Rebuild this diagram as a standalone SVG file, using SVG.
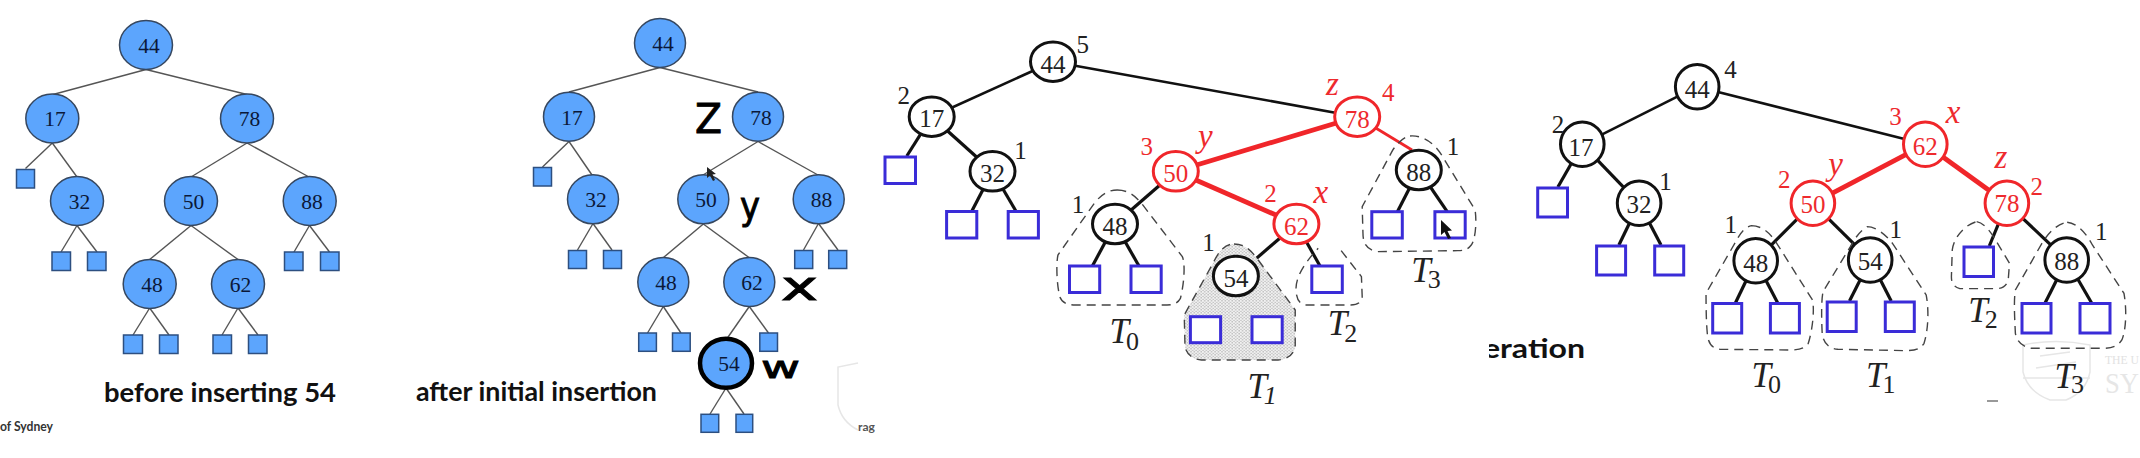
<svg xmlns="http://www.w3.org/2000/svg" width="2140" height="458" viewBox="0 0 2140 458">
<style>
text{font-family:"Liberation Serif","Times New Roman",serif}
.n1 ellipse{fill:#5ca5fd;stroke:#36475f;stroke-width:1.5}
.n1 rect{fill:#5ca5fd;stroke:#2d4f80;stroke-width:1.5}
.n1 text{font-size:21.500px;fill:#0b1838;text-anchor:middle}
.e1 line{stroke:#555;stroke-width:1.4}
.bk ellipse{fill:#fff;stroke:#111;stroke-width:3}
.rd ellipse{fill:#fff;stroke:#f0262a;stroke-width:3}
.bk text{font-size:25px;fill:#222;text-anchor:middle}
.rd text{font-size:25px;fill:#ee2a2e;text-anchor:middle}
.lf rect{fill:#fff;stroke:#3a2cd8;stroke-width:3}
.bk .hb{font-size:25px;fill:#222;text-anchor:middle}
.rd .hr{font-size:25px;fill:#ee2a2e;text-anchor:middle}
.rd .ir{font-size:33px;fill:#ee2a2e;text-anchor:middle;font-style:italic}
.e2 line{stroke:#111;stroke-width:3.2}
.e2 .t{stroke-width:2.6}
.e2 .r{stroke:#f0262a;stroke-width:4.8}
.e2 .q{stroke:#f0262a;stroke-width:2.8}
.blob{fill:none;stroke:#444;stroke-width:1.4;stroke-dasharray:9 6;vector-effect:non-scaling-stroke}
.T{font-size:35px;font-style:italic;fill:#222}
.S{font-size:26px;fill:#222}
.cap{font-family:Lato,"Open Sans",sans-serif;font-size:27px;font-weight:700;fill:#111}
.hw{font-family:"DejaVu Sans","Open Sans",sans-serif;font-weight:400;fill:#000;stroke:#000;stroke-width:.9}
.wm{fill:none;stroke:#e6e6e6;stroke-width:1.5}
</style>
<defs>
<pattern id="dots" width="9" height="9" patternUnits="userSpaceOnUse"><rect width="9" height="9" fill="#f1f1f1"/><circle cx="2.500" cy="2.500" r="2" fill="#9c9c9c"/><circle cx="7" cy="7" r="2" fill="#b4b4b4"/></pattern>
<clipPath id="clipEr"><rect x="1489" y="320" width="110" height="50"/></clipPath>
</defs>
<rect width="2140" height="458" fill="#fff"/>

<g id="watermarks">
<path class="wm" d="M858 363 L838 367 L838 405 Q842 422 858 430"/>
<path class="wm" d="M2090 345 Q2056 338 2023 345 L2023 372 Q2028 392 2050 400 L2066 400 Q2086 392 2090 372Z"/>
<path class="wm" d="M2040 356 L2070 352 M2036 368 L2076 362 M2023 378 L2090 378"/>
<path d="M1987 401 H1998" stroke="#555" stroke-width="1.2"/>
</g>
<text x="2105" y="364" font-size="12" fill="#e2e2e2" textLength="34" lengthAdjust="spacingAndGlyphs">THE U</text>
<text x="2105" y="393" font-size="30" fill="#e6e6e6" textLength="34" lengthAdjust="spacingAndGlyphs">SY</text>

<g id="connectors">
<g class="e1">
<line x1="146" y1="69.500" x2="53" y2="94.500"/><line x1="146" y1="69.500" x2="247" y2="94.500"/>
<line x1="52.300" y1="143" x2="25.500" y2="168.500"/><line x1="52.300" y1="143" x2="77" y2="177"/>
<line x1="247" y1="143" x2="191" y2="177"/><line x1="247" y1="143" x2="309" y2="177"/>
<line x1="77" y1="225.500" x2="61" y2="252"/><line x1="77" y1="225.500" x2="97" y2="252"/>
<line x1="191" y1="225.500" x2="149.700" y2="259.500"/><line x1="191" y1="225.500" x2="238" y2="259.500"/>
<line x1="309.500" y1="225.500" x2="294" y2="252"/><line x1="309.500" y1="225.500" x2="329.500" y2="252"/>
<line x1="149.700" y1="308" x2="133" y2="335"/><line x1="149.700" y1="308" x2="169" y2="335"/>
<line x1="238" y1="308" x2="222" y2="335"/><line x1="238" y1="308" x2="258" y2="335"/>

<line x1="660" y1="67.500" x2="569" y2="92"/><line x1="660" y1="67.500" x2="758" y2="92"/>
<line x1="569" y1="141.500" x2="542.500" y2="167"/><line x1="569" y1="141.500" x2="592" y2="175"/>
<line x1="758" y1="141.500" x2="703" y2="175"/><line x1="758" y1="141.500" x2="818" y2="175"/>
<line x1="593" y1="223.500" x2="577.500" y2="250"/><line x1="593" y1="223.500" x2="612" y2="250"/>
<line x1="703.300" y1="224" x2="663.500" y2="257.500"/><line x1="703.300" y1="224" x2="749" y2="257.500"/>
<line x1="818.500" y1="223.500" x2="803.500" y2="250"/><line x1="818.500" y1="223.500" x2="838" y2="250"/>
<line x1="663.300" y1="306.500" x2="647.500" y2="333"/><line x1="663.300" y1="306.500" x2="681" y2="333"/>
<line x1="749.300" y1="306.500" x2="726" y2="340"/><line x1="749.300" y1="306.500" x2="768.500" y2="333"/>
<line x1="726" y1="388" x2="710" y2="414"/><line x1="726" y1="388" x2="744" y2="414"/>
</g>
<g class="e2">
<line class="t" x1="1053" y1="61.700" x2="931.700" y2="116.700"/><line class="t" x1="1053" y1="61.700" x2="1357.200" y2="116.700"/>
<line x1="931.700" y1="116.700" x2="906.800" y2="156"/><line x1="931.700" y1="116.700" x2="992.500" y2="171.300"/>
<line x1="992.500" y1="171.300" x2="971.900" y2="211"/><line x1="992.500" y1="171.300" x2="1015.900" y2="211"/>
<line class="r" x1="1357.200" y1="116.700" x2="1175.800" y2="171.300"/>
<line class="r" x1="1175.800" y1="171.300" x2="1296.400" y2="224"/>
<line class="q" x1="1357.200" y1="116.700" x2="1412" y2="150"/>
<line x1="1175.800" y1="171.300" x2="1115" y2="224"/>
<line x1="1115" y1="224" x2="1092.400" y2="266"/><line x1="1115" y1="224" x2="1139" y2="266"/>
<line x1="1296.400" y1="224" x2="1235.900" y2="276"/><line x1="1296.400" y1="224" x2="1320" y2="266"/>
<line x1="1235.900" y1="276" x2="1216.800" y2="316.700"/><line x1="1235.900" y1="276" x2="1258" y2="316.700"/>
<line x1="1418.800" y1="170" x2="1397.400" y2="211.700"/><line x1="1418.800" y1="170" x2="1447.200" y2="211.700"/>

<line class="t" x1="1697.200" y1="86.700" x2="1582.300" y2="144.300"/><line class="t" x1="1697.200" y1="86.700" x2="1925.300" y2="144.300"/>
<line x1="1582.300" y1="144.300" x2="1557.900" y2="187"/><line x1="1582.300" y1="144.300" x2="1639.100" y2="203.300"/>
<line x1="1639.100" y1="203.300" x2="1618.900" y2="245"/><line x1="1639.100" y1="203.300" x2="1661" y2="245"/>
<line class="r" x1="1925.300" y1="144.300" x2="1812.900" y2="203.300"/><line class="r" x1="1925.300" y1="144.300" x2="2006.900" y2="203.300"/>
<line x1="1812.900" y1="203.300" x2="1755.700" y2="260.700"/><line x1="1812.900" y1="203.300" x2="1870.200" y2="260"/>
<line x1="2006.900" y1="203.300" x2="1989.300" y2="246"/><line x1="2006.900" y1="203.300" x2="2066.700" y2="260"/>
<line x1="1755.700" y1="260.700" x2="1735.500" y2="302.700"/><line x1="1755.700" y1="260.700" x2="1777.600" y2="302.700"/>
<line x1="1870.200" y1="260" x2="1849.500" y2="301"/><line x1="1870.200" y1="260" x2="1891.200" y2="301"/>
<line x1="2066.700" y1="260" x2="2045.200" y2="302.700"/><line x1="2066.700" y1="260" x2="2091.500" y2="302.700"/>
</g>
</g>

<g id="subtree-outlines">
<g transform="translate(880,0) scale(.3827,.3333)">
<path class="blob" style="fill:url(#dots)" d="M925 732C950 732 965 745 985 775L1085 930L1085 1040C1080 1065 1065 1078 1040 1080L840 1080C815 1078 800 1060 797 1040L795 945L870 790C885 755 900 732 925 732Z"/>
<path class="blob" d="M620 570C650 570 670 590 690 620L790 770C798 790 795 850 785 895C775 915 760 915 750 915L510 915C480 915 470 900 468 880C462 850 460 790 465 765L560 610C580 580 600 570 620 570Z"/>
<path class="blob" d="M1205 752L1258 830L1260 890C1258 910 1245 915 1230 915L1110 915C1095 912 1088 895 1087 870C1086 840 1100 800 1145 745"/>
<path class="blob" d="M1385 408C1420 405 1450 430 1470 470L1555 630C1560 670 1555 720 1545 735C1535 750 1525 752 1510 752L1300 755C1275 750 1262 735 1262 700L1260 620L1340 450C1355 425 1370 410 1385 408Z"/>
</g>
<g transform="translate(1480,0) scale(.4209,.3333)">
<path class="blob" d="M645 677C670 677 690 700 705 730L790 900C795 930 790 990 780 1030C770 1048 755 1050 735 1050L570 1048C550 1045 542 1030 540 1000C537 960 537 900 537 880L610 720C620 695 632 680 645 677Z"/>
<path class="blob" d="M920 680C940 680 965 705 980 730L1060 885C1067 930 1065 990 1055 1030C1045 1050 1030 1052 1010 1052L850 1048C825 1045 815 1025 813 1000C811 950 811 900 815 875L880 740C890 715 905 690 920 680Z"/>
<path class="blob" d="M1180 665C1200 670 1215 700 1225 720L1258 790L1255 840C1250 860 1240 866 1225 866L1140 866C1125 860 1120 850 1120 830L1122 750C1125 715 1150 675 1180 665Z"/>
<path class="blob" d="M1395 667C1420 670 1440 700 1455 735L1530 880C1537 930 1535 990 1525 1020C1515 1040 1500 1045 1480 1045L1310 1045C1285 1040 1275 1020 1272 1000C1270 950 1268 900 1272 870L1335 730C1350 700 1370 672 1395 667Z"/>
</g>
</g>

<g id="tree-before" class="n1">
<g id="a44"><ellipse cx="146" cy="45" rx="26.500" ry="24.500"/><text x="149" y="52.700">44</text></g>
<g id="a17"><ellipse cx="52.300" cy="118.500" rx="26.500" ry="24.500"/><text x="55" y="126">17</text></g>
<g id="a78"><ellipse cx="247" cy="118.500" rx="26.500" ry="24.500"/><text x="249.500" y="126">78</text></g>
<g id="a32"><ellipse cx="77" cy="201" rx="26.500" ry="24.500"/><text x="79.500" y="208.500">32</text></g>
<g id="a50"><ellipse cx="191" cy="201" rx="26.500" ry="24.500"/><text x="193.500" y="208.500">50</text></g>
<g id="a88"><ellipse cx="309.700" cy="201" rx="26.500" ry="24.500"/><text x="312" y="208.500">88</text></g>
<g id="a48"><ellipse cx="149.700" cy="284" rx="26.500" ry="24.500"/><text x="152" y="291.500">48</text></g>
<g id="a62"><ellipse cx="238" cy="284" rx="26.500" ry="24.500"/><text x="240.500" y="291.500">62</text></g>
<g id="a-l1"><rect x="16.500" y="169.500" width="18" height="18.500"/></g>
<g id="a-l2"><rect x="52" y="252" width="18.500" height="18.500"/></g>
<g id="a-l3"><rect x="87.500" y="252" width="18.500" height="18.500"/></g>
<g id="a-l4"><rect x="284.500" y="252" width="18.500" height="18.500"/></g>
<g id="a-l5"><rect x="320.500" y="252" width="18.500" height="18.500"/></g>
<g id="a-l6"><rect x="123.500" y="335" width="19" height="18.500"/></g>
<g id="a-l7"><rect x="159.500" y="335" width="18.500" height="18.500"/></g>
<g id="a-l8"><rect x="213" y="335" width="18.500" height="18.500"/></g>
<g id="a-l9"><rect x="248.500" y="335" width="18.500" height="18.500"/></g>
</g>
<text class="cap" x="104" y="402" textLength="232" lengthAdjust="spacingAndGlyphs">before inserting 54</text>
<text x="0" y="431" font-size="13" fill="#333" style="font-family:Lato,sans-serif;font-weight:700" textLength="53" lengthAdjust="spacingAndGlyphs">of Sydney</text>

<g id="tree-after" class="n1">
<g id="b44"><ellipse cx="660" cy="43" rx="25.500" ry="24.500"/><text x="663" y="51">44</text></g>
<g id="b17"><ellipse cx="569" cy="116.700" rx="25.500" ry="24.500"/><text x="572" y="124.500">17</text></g>
<g id="b78"><ellipse cx="758" cy="116.700" rx="25.500" ry="24.500"/><text x="761" y="124.500">78</text></g>
<g id="b32"><ellipse cx="593" cy="199.300" rx="25.500" ry="24.500"/><text x="596" y="207">32</text></g>
<g id="b50"><ellipse cx="703.300" cy="199.300" rx="25.500" ry="24.500"/><text x="706" y="207">50</text></g>
<g id="b88"><ellipse cx="818.700" cy="199.300" rx="25.500" ry="24.500"/><text x="821.500" y="207">88</text></g>
<g id="b48"><ellipse cx="663.300" cy="282" rx="25.500" ry="24.500"/><text x="666" y="290">48</text></g>
<g id="b62"><ellipse cx="749.300" cy="282" rx="25.500" ry="24.500"/><text x="752" y="290">62</text></g>
<g id="b54"><ellipse cx="726" cy="363.300" rx="26" ry="24.500" style="stroke:#000;stroke-width:4.500"/><text x="729" y="371">54</text></g>
<g id="b-l1"><rect x="533.500" y="167.500" width="18" height="18.500"/></g>
<g id="b-l2"><rect x="568.500" y="250.500" width="18" height="18"/></g>
<g id="b-l3"><rect x="603.500" y="250.500" width="18" height="18"/></g>
<g id="b-l4"><rect x="794.700" y="250.500" width="18" height="18"/></g>
<g id="b-l5"><rect x="828.700" y="250.500" width="18" height="18"/></g>
<g id="b-l6"><rect x="638.700" y="333" width="17.700" height="18.300"/></g>
<g id="b-l7"><rect x="672.500" y="333" width="17.700" height="18.300"/></g>
<g id="b-l8"><rect x="759.800" y="333" width="17.700" height="18.300"/></g>
<g id="b-l9"><rect x="701" y="414.300" width="17.700" height="18"/></g>
<g id="b-l10"><rect x="736" y="414.300" width="16.700" height="18"/></g>
</g>
<text class="cap" x="416" y="401" textLength="241" lengthAdjust="spacingAndGlyphs">after initial insertion</text>
<text x="858" y="431" font-size="12" fill="#555" style="font-family:Lato,sans-serif;font-weight:700">rag</text>
<path id="cursor-a" d="M707 167 L707 178 L710 175.500 L713 181 L715 180 L712.500 174.500 L716 174 Z" fill="#222"/>
<g id="handwriting">
<text class="hw" x="695" y="133" font-size="41" textLength="27" lengthAdjust="spacingAndGlyphs">Z</text>
<text class="hw" x="740" y="219" font-size="38" textLength="20" lengthAdjust="spacingAndGlyphs">y</text>
<text class="hw" x="781" y="300" font-size="40" textLength="37" lengthAdjust="spacingAndGlyphs">x</text>
<text class="hw" x="761" y="378" font-size="31" textLength="39" lengthAdjust="spacingAndGlyphs">w</text>
</g>

<g id="tree-p3">
<g id="c44" class="bk"><ellipse cx="1053" cy="61.700" rx="22.500" ry="19.800"/><text x="1053" y="72.500">44</text><text class="hb" x="1082.800" y="53">5</text></g>
<g id="c17" class="bk"><ellipse cx="931.700" cy="116.700" rx="22.500" ry="19.800"/><text x="931.700" y="126.500">17</text><text class="hb" x="903.700" y="104">2</text></g>
<g id="c32" class="bk"><ellipse cx="992.500" cy="171.300" rx="22.500" ry="19.800"/><text x="992.500" y="181.500">32</text><text class="hb" x="1020.500" y="159">1</text></g>
<g id="c78" class="rd"><ellipse cx="1357.200" cy="116.700" rx="22.500" ry="19.800"/><text x="1357.200" y="127.500">78</text><text class="ir" x="1332.300" y="95">z</text><text class="hr" x="1388.200" y="101">4</text></g>
<g id="c50" class="rd"><ellipse cx="1175.800" cy="171.300" rx="22.500" ry="19.800"/><text x="1175.800" y="181.500">50</text><text class="ir" x="1205.300" y="146.700">y</text><text class="hr" x="1146.700" y="155">3</text></g>
<g id="c62" class="rd"><ellipse cx="1296.400" cy="224" rx="22.500" ry="19.800"/><text x="1296.400" y="235">62</text><text class="hr" x="1270.400" y="202">2</text><text class="ir" x="1320.900" y="203">x</text></g>
<g id="c48" class="bk"><ellipse cx="1115" cy="224" rx="22.500" ry="19.800"/><text x="1115" y="235">48</text><text class="hb" x="1077.900" y="213">1</text></g>
<g id="c54" class="bk"><ellipse cx="1235.900" cy="276" rx="22.500" ry="19.800"/><text x="1235.900" y="286.500">54</text><text class="hb" x="1208.400" y="250.700">1</text></g>
<g id="c88" class="bk"><ellipse cx="1418.800" cy="170" rx="22.500" ry="19.800"/><text x="1418.800" y="181">88</text><text class="hb" x="1452.900" y="155">1</text></g>
<g class="lf">
<g id="c-l1"><rect x="885" y="157" width="30.500" height="26.500"/></g>
<g id="c-l2"><rect x="946.600" y="211.500" width="30.200" height="26.500"/></g>
<g id="c-l3"><rect x="1008.200" y="211.500" width="30.200" height="26.500"/></g>
<g id="c-l4"><rect x="1069.500" y="266" width="30.200" height="26.500"/></g>
<g id="c-l5"><rect x="1131" y="266" width="30.200" height="26.500"/></g>
<g id="c-l6"><rect x="1311.800" y="266" width="30.500" height="26.500"/></g>
<g id="c-l7"><rect x="1190.400" y="316.700" width="30.200" height="26"/></g>
<g id="c-l8"><rect x="1252" y="316.700" width="30.200" height="26"/></g>
<g id="c-l9"><rect x="1371.800" y="211.700" width="30.500" height="26.300"/></g>
<g id="c-l10"><rect x="1434.900" y="211.700" width="30.300" height="26.300"/></g>
</g>
</g>
<path id="cursor-b" d="M1441 220 L1441 235 L1444.500 232 L1448 239 L1451 238 L1447.500 231 L1452 230.500 Z" fill="#111"/>
<g id="subtree-labels-p3">
<text x="1109.600" y="343"><tspan class="T">T</tspan><tspan class="S" dx="-3" dy="7">0</tspan></text>
<text x="1247.400" y="398"><tspan class="T">T</tspan><tspan class="S" dx="-3" dy="6" style="font-style:italic">1</tspan></text>
<text x="1327.800" y="335"><tspan class="T">T</tspan><tspan class="S" dx="-3" dy="7">2</tspan></text>
<text x="1411.200" y="281.700"><tspan class="T">T</tspan><tspan class="S" dx="-3" dy="6.500">3</tspan></text>
</g>

<text class="cap" x="1483" y="358" clip-path="url(#clipEr)" textLength="102" lengthAdjust="spacingAndGlyphs">eration</text>

<g id="tree-p4">
<g id="d44" class="bk"><ellipse cx="1697.200" cy="86.700" rx="21.800" ry="22.300"/><text x="1697.200" y="97.700">44</text><text class="hb" x="1730.400" y="78.300">4</text></g>
<g id="d17" class="bk"><ellipse cx="1582.300" cy="144.300" rx="21.800" ry="22.300"/><text x="1581" y="155.800">17</text><text class="hb" x="1557.900" y="132.700">2</text></g>
<g id="d32" class="bk"><ellipse cx="1639.100" cy="203.300" rx="21.800" ry="22.300"/><text x="1639.100" y="213.300">32</text><text class="hb" x="1665.600" y="190">1</text></g>
<g id="d62" class="rd"><ellipse cx="1925.300" cy="144.300" rx="21.800" ry="22.300"/><text x="1925.300" y="155.300">62</text><text class="hr" x="1895.400" y="125">3</text><text class="ir" x="1953" y="122.700">x</text></g>
<g id="d50" class="rd"><ellipse cx="1812.900" cy="203.300" rx="21.800" ry="22.300"/><text x="1812.900" y="213.300">50</text><text class="ir" x="1835.600" y="175">y</text><text class="hr" x="1784.300" y="188.300">2</text></g>
<g id="d78" class="rd"><ellipse cx="2006.900" cy="203.300" rx="21.800" ry="22.300"/><text x="2006.900" y="212">78</text><text class="ir" x="2001" y="168.300">z</text><text class="hr" x="2036.800" y="195">2</text></g>
<g id="d48" class="bk"><ellipse cx="1755.700" cy="260.700" rx="21.800" ry="22.300"/><text x="1755.700" y="271.700">48</text><text class="hb" x="1730.800" y="233.300">1</text></g>
<g id="d54" class="bk"><ellipse cx="1870.200" cy="260" rx="21.800" ry="22.300"/><text x="1870.200" y="270">54</text><text class="hb" x="1895.800" y="238.300">1</text></g>
<g id="d88" class="bk"><ellipse cx="2066.700" cy="260" rx="21.800" ry="22.300"/><text x="2066.700" y="270">88</text><text class="hb" x="2101.200" y="240">1</text></g>
<g class="lf">
<g id="d-l1"><rect x="1537.700" y="188" width="29.800" height="29"/></g>
<g id="d-l2"><rect x="1596.600" y="246" width="29" height="29"/></g>
<g id="d-l3"><rect x="1654.700" y="246" width="29" height="29"/></g>
<g id="d-l4"><rect x="1712.700" y="303.500" width="29" height="29.500"/></g>
<g id="d-l5"><rect x="1770.400" y="303.500" width="29" height="29.500"/></g>
<g id="d-l6"><rect x="1827.200" y="302" width="29" height="29.500"/></g>
<g id="d-l7"><rect x="1885.300" y="302" width="29" height="29.500"/></g>
<g id="d-l8"><rect x="1964" y="247" width="29.500" height="29.500"/></g>
<g id="d-l9"><rect x="2022" y="303.500" width="29" height="29.500"/></g>
<g id="d-l10"><rect x="2080" y="303.500" width="30" height="29.500"/></g>
</g>
</g>
<g id="subtree-labels-p4">
<text x="1751.500" y="386.700"><tspan class="T">T</tspan><tspan class="S" dx="-3" dy="6.500">0</tspan></text>
<text x="1866" y="386.700"><tspan class="T">T</tspan><tspan class="S" dx="-3" dy="6.500">1</tspan></text>
<text x="1968.200" y="321.700"><tspan class="T">T</tspan><tspan class="S" dx="-3" dy="6.500">2</tspan></text>
<text x="2054.500" y="388.300"><tspan class="T">T</tspan><tspan class="S" dx="-3" dy="5">3</tspan></text>
</g>
</svg>
